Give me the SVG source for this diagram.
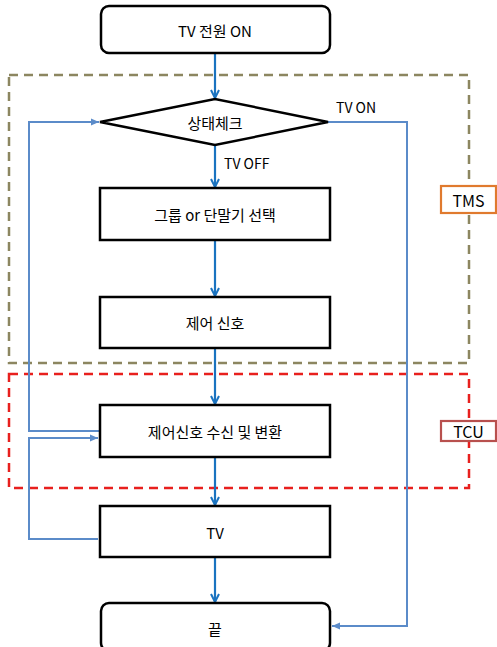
<svg xmlns="http://www.w3.org/2000/svg" width="497" height="647" viewBox="0 0 497 647">
<defs>
<style>
.box{fill:#fff;stroke:#000;stroke-width:2.5}
.t{font-family:"Noto Sans CJK KR","Liberation Sans",sans-serif;font-size:15px;fill:#000;text-anchor:middle;dominant-baseline:central}
.tag{font-family:"Noto Sans CJK KR","Liberation Sans",sans-serif;font-size:16px;fill:#000;text-anchor:middle;dominant-baseline:central}
.lbl{font-family:"Noto Sans CJK KR","Liberation Sans",sans-serif;font-size:14px;fill:#000}
.main{fill:none;stroke:#1a73c0;stroke-width:2.2}
.loop{fill:none;stroke:#5b8bc9;stroke-width:2}
</style>
<marker id="ah" markerWidth="10" markerHeight="10" refX="9" refY="5" orient="auto" markerUnits="userSpaceOnUse">
<path d="M1,1 L9,5 L1,9" fill="none" stroke="#1a73c0" stroke-width="2"/>
</marker>
<marker id="ah2" markerWidth="10" markerHeight="10" refX="8" refY="5" orient="auto" markerUnits="userSpaceOnUse">
<path d="M0,1.5 L8,5 L0,8.5 Z" fill="#5b8bc9"/>
</marker>
</defs>
<g id="groups">
<rect x="9" y="75" width="460" height="288" fill="none" stroke="#8c8660" stroke-width="2.5" stroke-dasharray="9,6"/>
<rect x="9" y="374" width="460" height="114" fill="none" stroke="#e8201e" stroke-width="2.5" stroke-dasharray="9,6"/>
</g>
<g id="connectors">
<line class="main" x1="215" y1="53" x2="215" y2="98" marker-end="url(#ah)"/>
<line class="main" x1="215" y1="145" x2="215" y2="187" marker-end="url(#ah)"/>
<line class="main" x1="215" y1="240" x2="215" y2="296" marker-end="url(#ah)"/>
<line class="main" x1="215" y1="348" x2="215" y2="404" marker-end="url(#ah)"/>
<line class="main" x1="215" y1="457" x2="215" y2="505" marker-end="url(#ah)"/>
<line class="main" x1="215" y1="557" x2="215" y2="602" marker-end="url(#ah)"/>
<polyline class="loop" points="328,122 407,122 407,626 332,626" marker-end="url(#ah2)"/>
<polyline class="loop" points="99,431 29,431 29,122 99,122" marker-end="url(#ah2)"/>
<polyline class="loop" points="98,539 29,539 29,438 98,438" marker-end="url(#ah2)"/>
<text class="lbl" x="336" y="113">TV ON</text>
<text class="lbl" x="224" y="169">TV OFF</text>
</g>
<g id="start">
<rect class="box" x="101" y="6" width="229" height="47" rx="8"/>
<text class="t" x="215" y="30">TV 전원 ON</text>
</g>
<g id="check">
<polygon class="box" points="100,122 215,99 328,122 215,145"/>
<text class="t" x="215" y="122">상태체크</text>
</g>
<g id="select">
<rect class="box" x="100" y="188" width="230" height="52"/>
<text class="t" x="215" y="214">그룹 or 단말기 선택</text>
</g>
<g id="signal">
<rect class="box" x="100" y="297" width="230" height="51"/>
<text class="t" x="215" y="322">제어 신호</text>
</g>
<g id="receive">
<rect class="box" x="100" y="405" width="230" height="52"/>
<text class="t" x="215" y="431">제어신호 수신 및 변환</text>
</g>
<g id="tv">
<rect class="box" x="100" y="506" width="230" height="51"/>
<text class="t" x="215" y="532">TV</text>
</g>
<g id="end">
<rect class="box" x="101" y="603" width="229" height="48" rx="8"/>
<text class="t" x="215" y="628">끝</text>
</g>
<g id="tms">
<rect x="441" y="186" width="55" height="27" fill="#fff" stroke="#e07a2e" stroke-width="2.2"/>
<text class="tag" x="468.5" y="199.5">TMS</text>
</g>
<g id="tcu">
<rect x="441" y="421" width="55" height="20" fill="#fff" stroke="#b8504e" stroke-width="2.2"/>
<text class="tag" x="468.5" y="431">TCU</text>
</g>
</svg>
